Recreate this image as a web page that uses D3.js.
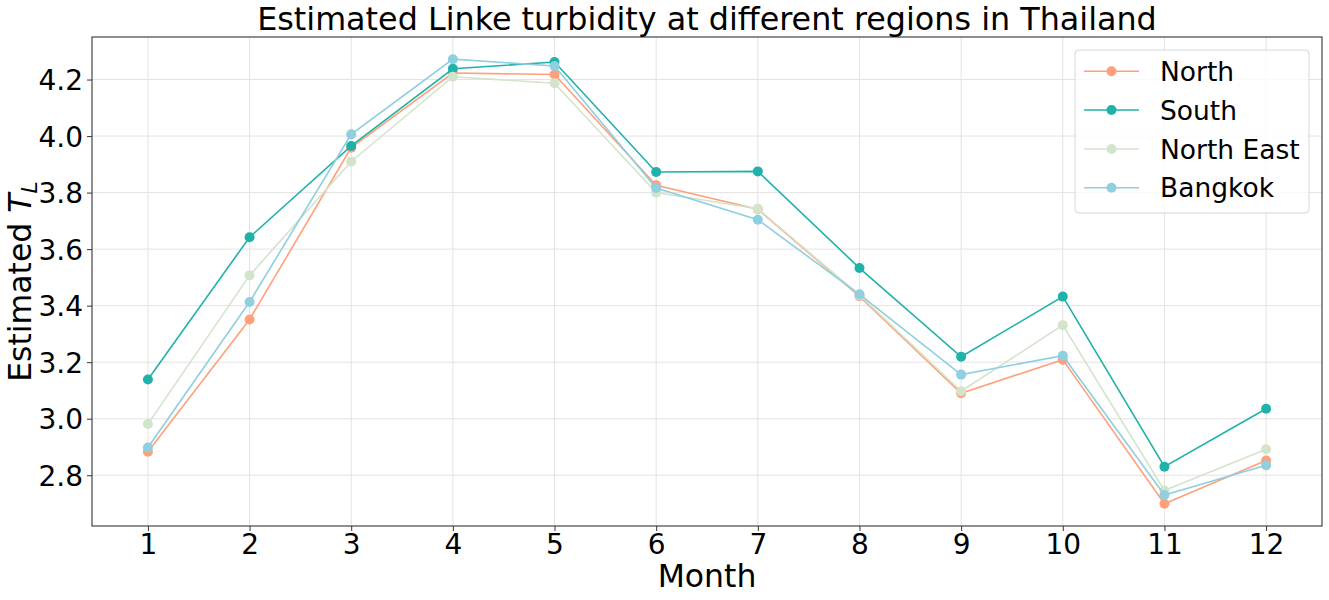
<!DOCTYPE html>
<html><head><meta charset="utf-8">
<script src="https://cdn.jsdelivr.net/npm/d3@7"></script>
<style>
body{margin:0;background:#fff;}
text{font-family:"DejaVu Sans",sans-serif;fill:#000;}
</style></head>
<body>
<svg id="chart" width="1329" height="600"></svg>
<script>
const months = [1,2,3,4,5,6,7,8,9,10,11,12];
const seriesNames = ["North","South","North East","Bangkok"];
const north     = [2.883,3.351,3.959,4.223,4.218,3.826,3.741,3.433,3.090,3.209,2.699,2.852];
const south     = [3.139,3.642,3.965,4.238,4.262,3.873,3.875,3.533,3.219,3.432,2.830,3.035];
const northEast = [2.981,3.507,3.910,4.210,4.187,3.800,3.743,3.437,3.097,3.331,2.746,2.892];
const bangkok   = [2.898,3.413,4.006,4.272,4.248,3.816,3.704,3.440,3.156,3.223,2.730,2.835];
const yTicks = [2.8,3.0,3.2,3.4,3.6,3.8,4.0,4.2];
const colors = ["#ffa07a","#20b2aa","#d3e4cb","#8ecfe0"];

const svg = d3.select("#chart");
const L = 92, R = 1322, T = 37, B = 526;
const x = d3.scaleLinear().domain([0.45,12.55]).range([L,R]);
const y = d3.scaleLinear().domain([2.6204,4.3505]).range([B,T]);

// grid
const g = svg.append("g");
g.selectAll("line.vx").data(months).enter().append("line")
  .attr("x1",d=>x(d)).attr("x2",d=>x(d)).attr("y1",T).attr("y2",B)
  .attr("stroke","#e3e3e3").attr("stroke-width",1);
g.selectAll("line.hy").data(yTicks).enter().append("line")
  .attr("x1",L).attr("x2",R).attr("y1",d=>y(d)).attr("y2",d=>y(d))
  .attr("stroke","#e3e3e3").attr("stroke-width",1);

// axes
const xAxis = d3.axisBottom(x).tickValues(months).tickFormat(d3.format("d")).tickSize(5).tickPadding(3);
const yAxis = d3.axisLeft(y).tickValues(yTicks).tickFormat(d3.format(".1f")).tickSize(5).tickPadding(4);
const gx = svg.append("g").attr("transform",`translate(0,${B})`).call(xAxis);
const gy = svg.append("g").attr("transform",`translate(${L},0)`).call(yAxis);
[gx,gy].forEach(a=>{
  a.select(".domain").remove();
  a.selectAll(".tick line").attr("stroke","#333");
  a.selectAll(".tick text").style("font-size","28px").attr("fill","#000");
});
gx.selectAll(".tick text").attr("dy","0.71em");
gy.selectAll(".tick text").attr("dy","0.36em");

// frame
svg.append("rect").attr("x",L).attr("y",T).attr("width",R-L).attr("height",B-T)
  .attr("fill","none").attr("stroke","#333").attr("stroke-width",1.1);

// series
const allData = [north,south,northEast,bangkok];
const line = d3.line().x((d,i)=>x(months[i])).y(d=>y(d));
allData.forEach((vals,k)=>{
  const sg = svg.append("g");
  sg.append("path").datum(vals).attr("d",line).attr("fill","none")
    .attr("stroke",colors[k]).attr("stroke-width",1.6);
  sg.selectAll("circle").data(vals).enter().append("circle")
    .attr("cx",(d,i)=>x(months[i])).attr("cy",d=>y(d)).attr("r",5)
    .attr("fill",colors[k]);
});

// title and labels
svg.append("text").attr("x",(L+R)/2).attr("y",30).attr("text-anchor","middle")
  .style("font-size","31.8px").text("Estimated Linke turbidity at different regions in Thailand");
svg.append("text").attr("x",(L+R)/2).attr("y",587).attr("text-anchor","middle")
  .style("font-size","31.5px").text("Month");
const yl = svg.append("text").attr("transform",`translate(31,${(T+B)/2}) rotate(-90)`)
  .attr("text-anchor","middle").style("font-size","31.5px");
yl.append("tspan").text("Estimated ");
yl.append("tspan").style("font-style","italic").text("T");
yl.append("tspan").style("font-style","italic").style("font-size","22px").attr("dy","6").text("L");

// legend
const lg = svg.append("g");
lg.append("rect").attr("x",1075).attr("y",50).attr("width",234).attr("height",163)
  .attr("rx",4).attr("fill","#fff").attr("fill-opacity",0.8).attr("stroke","#d6d6d6").attr("stroke-width",1);
const rowY = [71.3,110,149,187.7];
seriesNames.forEach((n,k)=>{
  lg.append("line").attr("x1",1084).attr("x2",1139).attr("y1",rowY[k]).attr("y2",rowY[k])
    .attr("stroke",colors[k]).attr("stroke-width",1.6);
  lg.append("circle").attr("cx",1111.5).attr("cy",rowY[k]).attr("r",5).attr("fill",colors[k]);
  lg.append("text").attr("x",1160).attr("y",rowY[k]).attr("dy","0.36em")
    .style("font-size","26.5px").text(n);
});
</script>
</body></html>
